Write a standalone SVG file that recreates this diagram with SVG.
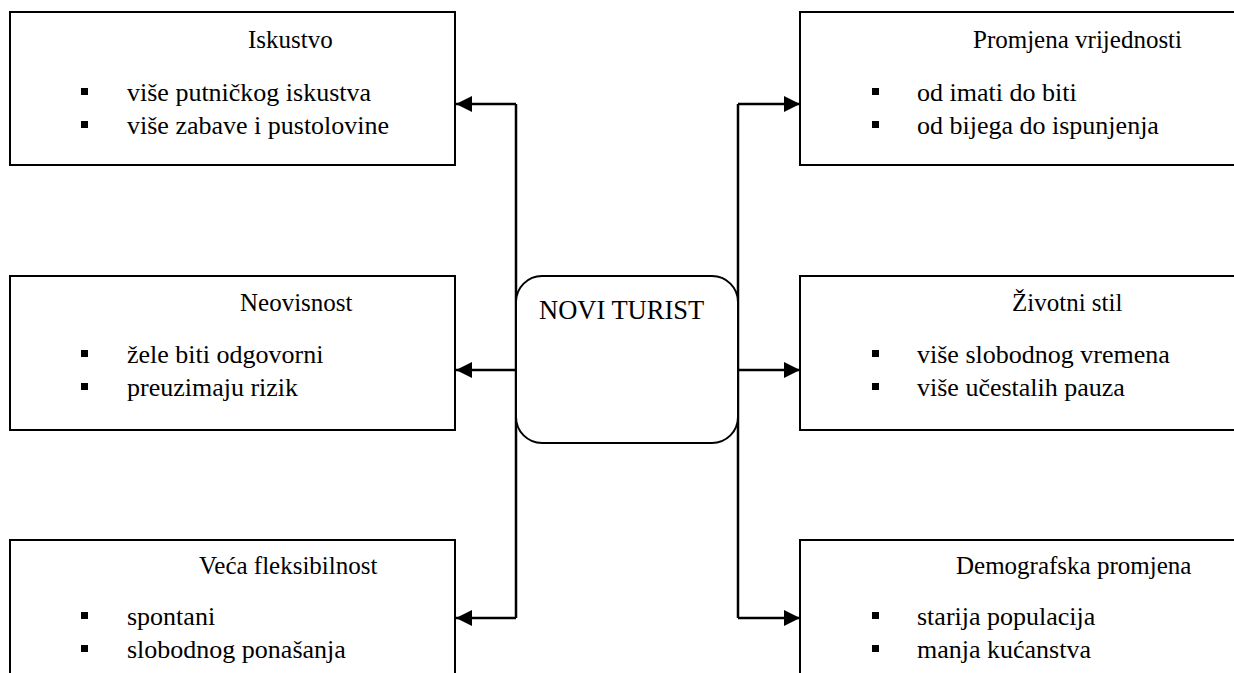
<svg xmlns="http://www.w3.org/2000/svg" width="1234" height="673" viewBox="0 0 1234 673">
<style>
.box{fill:#fff;stroke:#000;stroke-width:2}
.t{font-family:"Liberation Serif","Times New Roman",serif;font-size:25px;fill:#000}
.i{font-size:26px}
.b{fill:#000}
.c{fill:none;stroke:#000;stroke-width:2.5}
</style>
<defs>
<marker id="ah" markerWidth="16" markerHeight="16" viewBox="0 0 16 16" refX="16" refY="8" orient="auto" markerUnits="userSpaceOnUse">
<path d="M0,0 L16,8 L0,16 Z" fill="#000"/>
</marker>
</defs>
<rect width="1234" height="673" fill="#fff"/>
<g id="connectors">
<path class="c" d="M516,104 V618"/>
<path class="c" d="M738,104 V618"/>
<path class="c" d="M516,104 H456" marker-end="url(#ah)"/>
<path class="c" d="M516,370 H456" marker-end="url(#ah)"/>
<path class="c" d="M516,618 H456" marker-end="url(#ah)"/>
<path class="c" d="M738,104 H800" marker-end="url(#ah)"/>
<path class="c" d="M738,370 H800" marker-end="url(#ah)"/>
<path class="c" d="M738,618 H800" marker-end="url(#ah)"/>
</g>
<g id="center">
<rect class="box" x="516" y="276" width="222" height="167" rx="26" ry="26"/>
<text class="t" x="539" y="319" style="font-size:26.5px">NOVI TURIST</text>
</g>
<g id="iskustvo">
<rect class="box" x="10" y="12" width="445" height="153"/>
<text class="t" x="248" y="48">Iskustvo</text>
<rect class="b" x="81" y="88" width="7" height="7"/>
<text class="t i" x="127" y="101">više putničkog iskustva</text>
<rect class="b" x="81" y="121" width="7" height="7"/>
<text class="t i" x="127" y="134">više zabave i pustolovine</text>
</g>
<g id="neovisnost">
<rect class="box" x="10" y="276" width="445" height="154"/>
<text class="t" x="240" y="311">Neovisnost</text>
<rect class="b" x="81" y="350" width="7" height="7"/>
<text class="t i" x="127" y="363">žele biti odgovorni</text>
<rect class="b" x="81" y="383" width="7" height="7"/>
<text class="t i" x="127" y="396">preuzimaju rizik</text>
</g>
<g id="fleksibilnost">
<rect class="box" x="10" y="540" width="445" height="160"/>
<text class="t" x="199" y="574">Veća fleksibilnost</text>
<rect class="b" x="81" y="612" width="7" height="7"/>
<text class="t i" x="127" y="625">spontani</text>
<rect class="b" x="81" y="645" width="7" height="7"/>
<text class="t i" x="127" y="658">slobodnog ponašanja</text>
</g>
<g id="vrijednosti">
<rect class="box" x="800" y="12" width="450" height="153"/>
<text class="t" x="973" y="48">Promjena vrijednosti</text>
<rect class="b" x="872" y="88" width="7" height="7"/>
<text class="t i" x="917" y="101">od imati do biti</text>
<rect class="b" x="872" y="121" width="7" height="7"/>
<text class="t i" x="917" y="134">od bijega do ispunjenja</text>
</g>
<g id="stil">
<rect class="box" x="800" y="276" width="450" height="154"/>
<text class="t" x="1012" y="311">Životni stil</text>
<rect class="b" x="872" y="350" width="7" height="7"/>
<text class="t i" x="917" y="363">više slobodnog vremena</text>
<rect class="b" x="872" y="383" width="7" height="7"/>
<text class="t i" x="917" y="396">više učestalih pauza</text>
</g>
<g id="demografija">
<rect class="box" x="800" y="540" width="450" height="160"/>
<text class="t" x="956" y="574">Demografska promjena</text>
<rect class="b" x="872" y="612" width="7" height="7"/>
<text class="t i" x="917" y="625">starija populacija</text>
<rect class="b" x="872" y="645" width="7" height="7"/>
<text class="t i" x="917" y="658">manja kućanstva</text>
</g>
</svg>
